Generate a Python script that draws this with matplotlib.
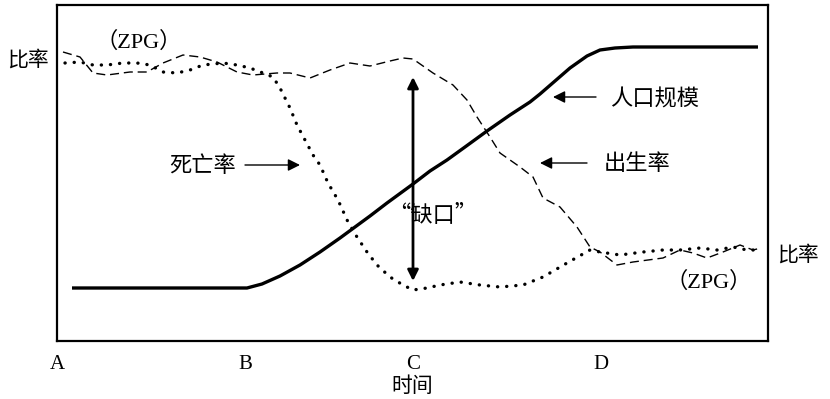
import matplotlib
matplotlib.use('Agg')
import matplotlib.pyplot as plt

plt.rcParams['font.family'] = ['Noto Sans CJK SC', 'DejaVu Sans']

# time axis and stage labels
stage_pos = [57, 245, 413, 601]
stage_labels = ['A', 'B', 'C', 'D']

# population size (solid)
pop_x = [72, 247, 262, 280, 300, 320, 340, 355, 370, 387, 413, 430, 447,
         465, 487, 510, 530, 540, 555, 570, 587, 600, 615, 633, 758]
pop_y = [288, 288, 284, 276, 265, 252, 238, 227, 216, 203, 184, 171, 160,
         147, 131, 115, 102, 94, 81, 68, 56, 50, 48, 47, 47]

# death rate (dotted)
death_x = [65, 80, 93, 107, 123, 137, 150, 163, 177, 190, 203, 223, 237,
           250, 263, 273, 280, 290, 297, 305, 313, 320, 328, 338, 348, 357,
           367, 377, 390, 403, 413, 427, 440, 460, 480, 500, 523, 543, 567,
           590, 600, 620, 643, 663, 680, 700, 717, 733, 747, 760]
death_y = [63, 62, 65, 65, 63, 63, 65, 72, 73, 70, 65, 63, 65,
           68, 73, 77, 88, 108, 125, 140, 155, 165, 183, 200, 222, 237,
           252, 265, 277, 285, 290, 288, 285, 282, 285, 287, 285, 277, 263,
           250, 252, 255, 252, 250, 250, 248, 250, 247, 250, 250]

# birth rate (dashed)
birth_x = [63, 80, 93, 107, 130, 147, 163, 183, 200, 217, 237, 253, 277,
           290, 310, 330, 350, 370, 390, 403, 413, 433, 453, 467, 477, 490,
           500, 520, 533, 543, 560, 577, 590, 600, 617, 633, 663, 680, 693,
           707, 723, 740, 753, 761]
birth_y = [52, 57, 73, 75, 72, 72, 63, 55, 57, 62, 72, 75, 73,
           73, 78, 70, 63, 66, 61, 58, 59, 73, 85, 100, 117, 137,
           153, 167, 177, 198, 207, 227, 247, 252, 265, 262, 258, 250, 253,
           258, 252, 245, 250, 248]

fig = plt.figure(figsize=(8.3, 3.99), dpi=100)
ax = fig.add_axes([57 / 830, 58 / 399, 711 / 830, 336 / 399])
ax.set_xlim(57, 768)
ax.set_ylim(341, 5)

for s in ax.spines.values():
    s.set_linewidth(1.6)

ax.plot(pop_x, pop_y, color='black', lw=2.4, solid_capstyle='butt')
ax.plot(death_x, death_y, color='black', lw=2.4,
        linestyle=(0, (0.05, 2.7)), dash_capstyle='round')
ax.plot(birth_x, birth_y, color='black', lw=1.0,
        linestyle=(0, (6.5, 3.5)))

# the "gap" double arrow
ax.annotate('', xy=(413, 77), xytext=(413, 281),
            arrowprops=dict(arrowstyle='<|-|>', color='black', lw=2.0,
                            mutation_scale=16, shrinkA=0, shrinkB=0))

# label arrows
arrow_kw = dict(arrowstyle='-|>', color='black', lw=1.0,
                mutation_scale=18, shrinkA=0, shrinkB=0)
ax.annotate('', xy=(300, 165), xytext=(245, 165), arrowprops=arrow_kw)
ax.annotate('', xy=(553, 97), xytext=(596, 97), arrowprops=arrow_kw)
ax.annotate('', xy=(540, 163), xytext=(587, 163), arrowprops=arrow_kw)

ax.text(203, 165, '死亡率', fontsize=16, ha='center', va='center')
ax.text(655, 99, '人口规模', fontsize=16, ha='center', va='center')
ax.text(637, 163, '出生率', fontsize=16, ha='center', va='center')
ax.text(433, 215, '“缺口”', fontsize=16, ha='center', va='center')

ax.text(139, 42, '（ZPG）', fontsize=16, ha='center', va='center',
        family=['Liberation Serif', 'Noto Sans CJK SC'])
ax.text(709, 282, '（ZPG）', fontsize=16, ha='center', va='center',
        family=['Liberation Serif', 'Noto Sans CJK SC'])

ax.text(28, 60, '比率', fontsize=15, ha='center', va='center', clip_on=False)
ax.text(798, 255, '比率', fontsize=15, ha='center', va='center', clip_on=False)

ax.set_yticks([])
ax.set_xticks(stage_pos)
ax.set_xticklabels(stage_labels, fontsize=15, family='Liberation Serif')
ax.tick_params(axis='x', length=0, pad=10)
ax.set_xlabel('时间', fontsize=15, labelpad=1)

fig.savefig('out.png', dpi=100)
